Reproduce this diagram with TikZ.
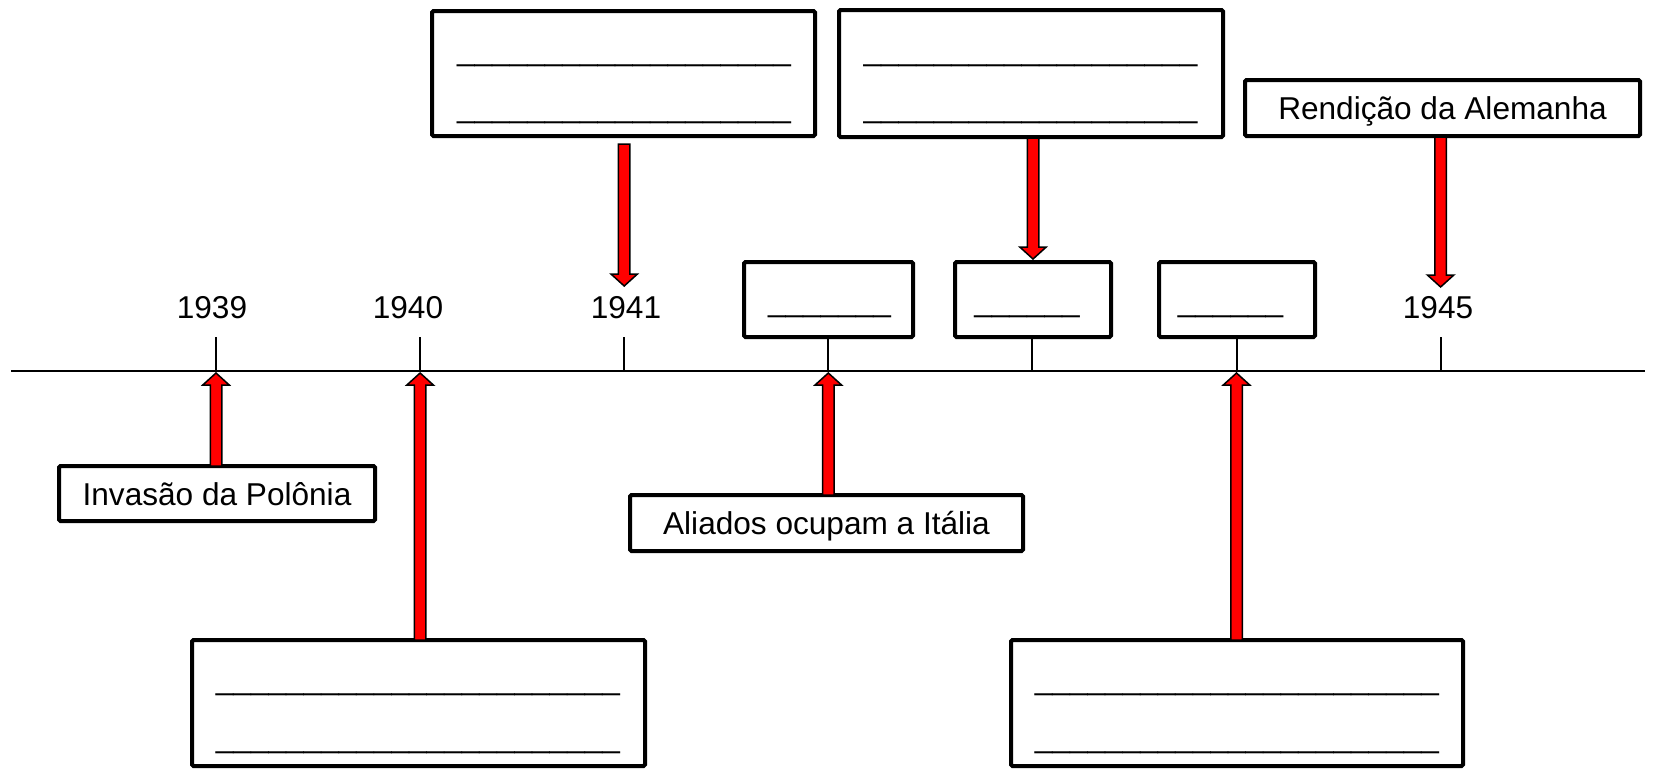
\documentclass[tikz,border=0pt]{standalone}
\usepackage{fontspec}
\setmainfont{Liberation Sans}
\usetikzlibrary{calc}
\newcommand\blanks[1]{\foreach\i in {1,...,#1}{\_}}
\newcommand\ArrUp[2]{\draw[barrow] let \p1=(#1), \p2=(#2) in
  (\x2-5.75pt,\y1) -- (\x2-5.75pt,\y2-12pt) -- (\x2-13.25pt,\y2-12pt) -- (\x2,\y2)
  -- (\x2+13.25pt,\y2-12pt) -- (\x2+5.75pt,\y2-12pt) -- (\x2+5.75pt,\y1) -- cycle;}
\newcommand\ArrDn[2]{\draw[barrow] let \p1=(#1), \p2=(#2) in
  (\x2-5.75pt,\y1) -- (\x2-5.75pt,\y2+12pt) -- (\x2-13.25pt,\y2+12pt) -- (\x2,\y2)
  -- (\x2+13.25pt,\y2+12pt) -- (\x2+5.75pt,\y2+12pt) -- (\x2+5.75pt,\y1) -- cycle;}
\begin{document}
\begin{tikzpicture}[x=1pt,y=-1pt,
  font=\fontsize{31.6}{38}\selectfont,
  box/.style={draw, line width=4pt, rounded corners=1.5pt, fill=white, inner sep=0pt,
    text height=23pt, text depth=0pt},
  tline/.style={line width=2pt},
  barrow/.style={fill=red, draw=black, line width=1.5pt, line join=miter},
  lbl/.style={anchor=base, inner sep=0pt}]
\useasboundingbox (0,0) rectangle (1653,779);
% timeline
\coordinate (L) at (11,371);
\coordinate (R) at (1645,371);
\coordinate (t1) at (216,371);
\coordinate (t2) at (420.1,371);
\coordinate (t3) at (624.2,371);
\coordinate (t4) at (828.3,371);
\coordinate (t5) at (1032.4,371);
\coordinate (t6) at (1236.5,371);
\coordinate (t7) at (1440.6,371);
\coordinate (k1) at (216,337);
\coordinate (k2) at (420.1,337);
\coordinate (k3) at (624.2,337);
\coordinate (k7) at (1440.6,337);
\draw[tline] (L) -- (R);
\draw[tline] (t1) -- (k1);
\draw[tline] (t2) -- (k2);
\draw[tline] (t3) -- (k3);
\draw[tline] (t7) -- (k7);
% year labels
\node[lbl] (y39) at (212,318) {1939};
\node[lbl] (y40) at (408,318) {1940};
\node[lbl] (y41) at (626,318) {1941};
\node[lbl] (y45) at (1438,318) {1945};
% boxes
\node[box, minimum width=383pt, minimum height=125pt] (tl) at (623.5,73.5) {};
\node[box, minimum width=384pt, minimum height=127pt] (tr) at (1031,73.5) {};
\node[box, minimum width=395pt, minimum height=56pt] (ren) at (1442.5,108) {Rendição da Alemanha};
\node[box, minimum width=169pt, minimum height=75pt] (sb1) at (828.5,299.5) {};
\node[box, minimum width=156pt, minimum height=75pt] (sb2) at (1033,299.5) {};
\node[box, minimum width=156pt, minimum height=75pt] (sb3) at (1237,299.5) {};
\node[box, minimum width=316pt, minimum height=55pt] (inv) at (217,493.5) {Invasão da Polônia};
\node[box, minimum width=393pt, minimum height=56pt] (ali) at (826.5,523) {Aliados ocupam a Itália};
\node[box, minimum width=453pt, minimum height=126pt] (bl) at (418.5,703) {};
\node[box, minimum width=452pt, minimum height=126pt] (br) at (1237,703) {};
% blanks
\node[lbl] (tl1) at (624,60.5) {\blanks{19}};
\node[lbl] (tl2) at (624,117.5) {\blanks{19}};
\node[lbl] (tr1) at (1030.5,60.5) {\blanks{19}};
\node[lbl] (tr2) at (1030.5,117.5) {\blanks{19}};
\node[lbl] (sb1t) at (829.5,311.5) {\blanks{7}};
\node[lbl] (sb2t) at (1027,311.5) {\blanks{6}};
\node[lbl] (sb3t) at (1230.5,311.5) {\blanks{6}};
\node[lbl] (bl1) at (418,689.5) {\blanks{23}};
\node[lbl] (bl2) at (418,747.5) {\blanks{23}};
\node[lbl] (br1) at (1237,689.5) {\blanks{23}};
\node[lbl] (br2) at (1237,747.5) {\blanks{23}};
% connectors from small boxes
\draw[tline] (sb1.south -| t4) -- (t4);
\draw[tline] (sb2.south -| t5) -- (t5);
\draw[tline] (sb3.south -| t6) -- (t6);
% block arrows
\coordinate (p41) at (624.2,286);
\coordinate (p45) at (1440.6,287);
\ArrUp{[yshift=-2pt]inv.north}{[yshift=-2pt]t1}
\ArrUp{[yshift=-2pt]bl.north}{[yshift=-2pt]t2}
\ArrUp{[yshift=-2pt]ali.north}{[yshift=-2pt]t4}
\ArrUp{[yshift=-2pt]br.north}{[yshift=-2pt]t6}
\ArrDn{[yshift=-6pt]tl.south}{p41}
\ArrDn{[yshift=1pt]tr.south}{[yshift=1pt]sb2.north}
\ArrDn{[yshift=1pt]ren.south}{p45}
\end{tikzpicture}
\end{document}
